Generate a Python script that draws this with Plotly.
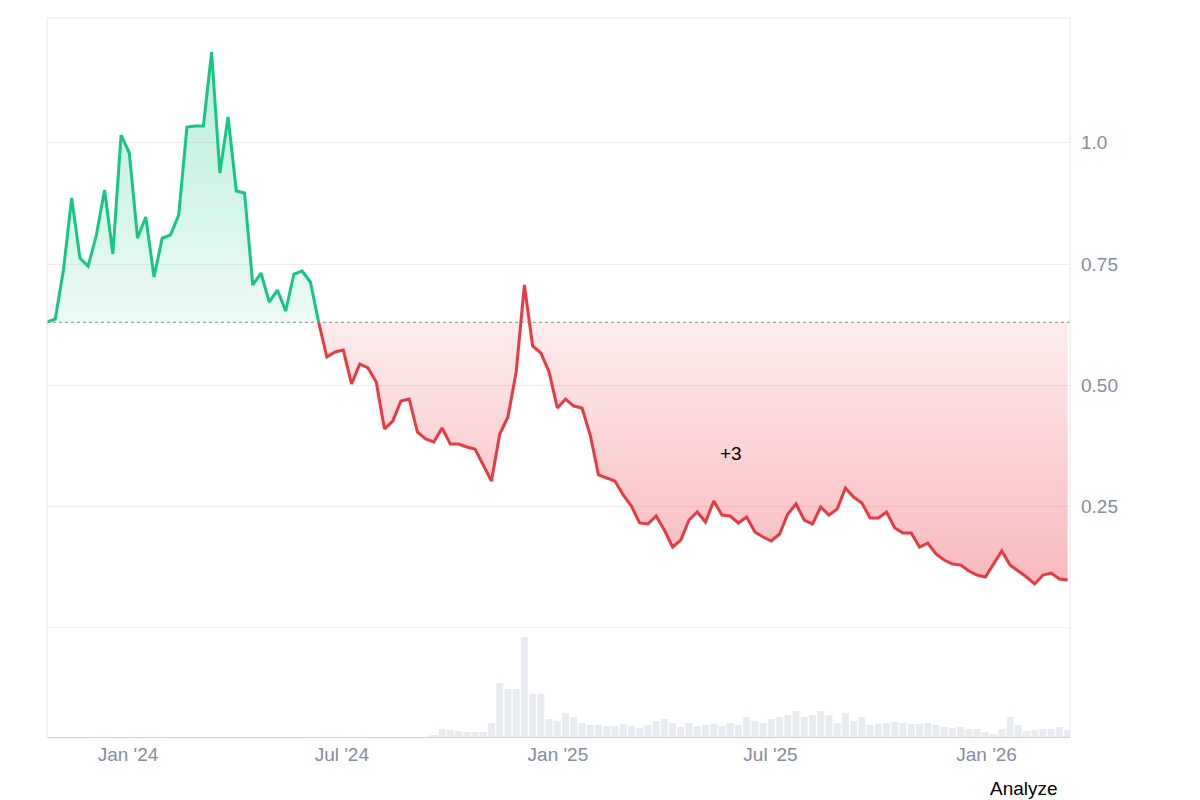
import pandas as pd
import plotly.graph_objects as go

price_px = [322,319,270,198,258,266,235,190,254,135,
            153,238,217,277,238,235,215,127,126,126,
            52,173,117,191,193,285,273,302,290,311,
            274,271,282,322,357,352,350,384,364,368,
            382,429,421,401,399,432,439,442,428,444,
            444,447,449,465,481,434,417,372,285,346,
            353,372,408,399,406,408,435,475,478,481,
            495,506,523,524,516,530,547,540,520,512,
            522,501,515,516,523,517,532,537,541,534,
            514,504,520,524,507,515,509,488,497,503,
            518,518,512,528,533,533,547,543,554,560,
            564,565,571,575,577,564,551,565,571,577,
            584,575,573,579,580]
prices = [round((628 - p) / 485.3, 4) for p in price_px]
volume_tail = [2,8,7,6,5,5,5,14,54,48,48,100,43,43,18,16,24,20,14,12,12,11,11,13,11,9,12,16,18,14,
               10,14,11,12,13,11,14,12,20,16,14,18,20,22,26,20,22,26,22,14,24,16,20,12,13,14,15,14,13,13,
               14,12,10,9,10,8,8,5,3,8,20,12,6,7,8,8,10,7]
volume = [0]*(len(prices)-len(volume_tail)) + volume_tail
dates = pd.date_range("2023-10-24", "2026-03-11", periods=len(prices))
baseline = 0.63
cross = 33

fig = go.Figure()
gd = list(dates[:cross+1]); gp = prices[:cross+1]
fig.add_trace(go.Scatter(x=gd, y=[baseline]*len(gd), mode="lines", line=dict(width=0), hoverinfo="skip", showlegend=False))
fig.add_trace(go.Scatter(x=gd, y=gp, mode="lines", line=dict(color="#16c784", width=3), fill="tonexty",
                         fillgradient=dict(type="vertical", colorscale=[[0, "rgba(22,199,132,0.08)"], [1, "rgba(22,199,132,0.3)"]]),
                         showlegend=False))
rd = list(dates[cross:]); rp = prices[cross:]
fig.add_trace(go.Scatter(x=rd, y=[baseline]*len(rd), mode="lines", line=dict(width=0), hoverinfo="skip", showlegend=False))
fig.add_trace(go.Scatter(x=rd, y=rp, mode="lines", line=dict(color="#ea3943", width=3), fill="tonexty",
                         fillgradient=dict(type="vertical", colorscale=[[0, "rgba(234,57,67,0.35)"], [1, "rgba(234,57,67,0.06)"]]),
                         showlegend=False))
fig.add_trace(go.Bar(x=list(dates), y=volume, marker=dict(color="#e8ecf1", line=dict(width=0)), yaxis="y2", showlegend=False))

xr = [pd.Timestamp("2023-10-24"), pd.Timestamp("2026-03-13")]
fig.add_shape(type="line", xref="x", yref="y", x0=xr[0], x1=xr[1], y0=baseline, y1=baseline,
              line=dict(color="#888", width=1.2, dash="dot"))
fig.add_shape(type="line", xref="x", yref="y", x0=xr[0], x1=xr[1], y0=0, y1=0,
              line=dict(color="#eeeeee", width=1.5))
fig.add_shape(type="line", xref="paper", yref="paper", x0=0, x1=0, y0=0, y1=1, line=dict(color="#e6e6e6", width=1))
fig.add_shape(type="line", xref="paper", yref="paper", x0=1, x1=1, y0=0, y1=1, line=dict(color="#e6e6e6", width=1))
fig.add_shape(type="line", xref="paper", yref="paper", x0=0, x1=1, y0=1, y1=1, line=dict(color="#e6e6e6", width=1))

fig.add_annotation(x=pd.Timestamp("2025-05-28"), y=0.36, text="+3", showarrow=False, font=dict(size=19, color="#000"))
fig.add_annotation(xref="paper", yref="paper", x=0.99, y=-0.072, xanchor="right", yanchor="middle", text="Analyze",
                   showarrow=False, font=dict(size=19, color="#000"))

fig.update_layout(
    width=1200, height=800, margin=dict(l=39, r=138, t=10, b=71),
    plot_bgcolor="white", paper_bgcolor="white", bargap=0.15,
    font=dict(family="Liberation Sans, Arial, sans-serif"),
    xaxis=dict(range=xr, type="date", anchor="y2", showgrid=False,
               tickvals=["2024-01-01","2024-07-01","2025-01-01","2025-07-01","2026-01-01"],
               ticktext=["Jan '24","Jul '24","Jan '25","Jul '25","Jan '26"], tickfont=dict(size=19, color="#858ca2"),
               showline=True, linecolor="#cfd3da", ticks="", zeroline=False),
    yaxis=dict(domain=[0.1516, 1], range=[0, 1.257], side="right", tickvals=[0.25, 0.5, 0.75, 1.0],
               ticktext=["0.25", "0.50", "0.75", "1.0"], tickfont=dict(size=19, color="#858ca2"),
               gridcolor="#eeeeee", zeroline=False, ticklabelstandoff=10),
    yaxis2=dict(domain=[0, 0.15], range=[0, 108], showticklabels=False, showgrid=False, zeroline=False),
)
fig.write_html("out.html")
